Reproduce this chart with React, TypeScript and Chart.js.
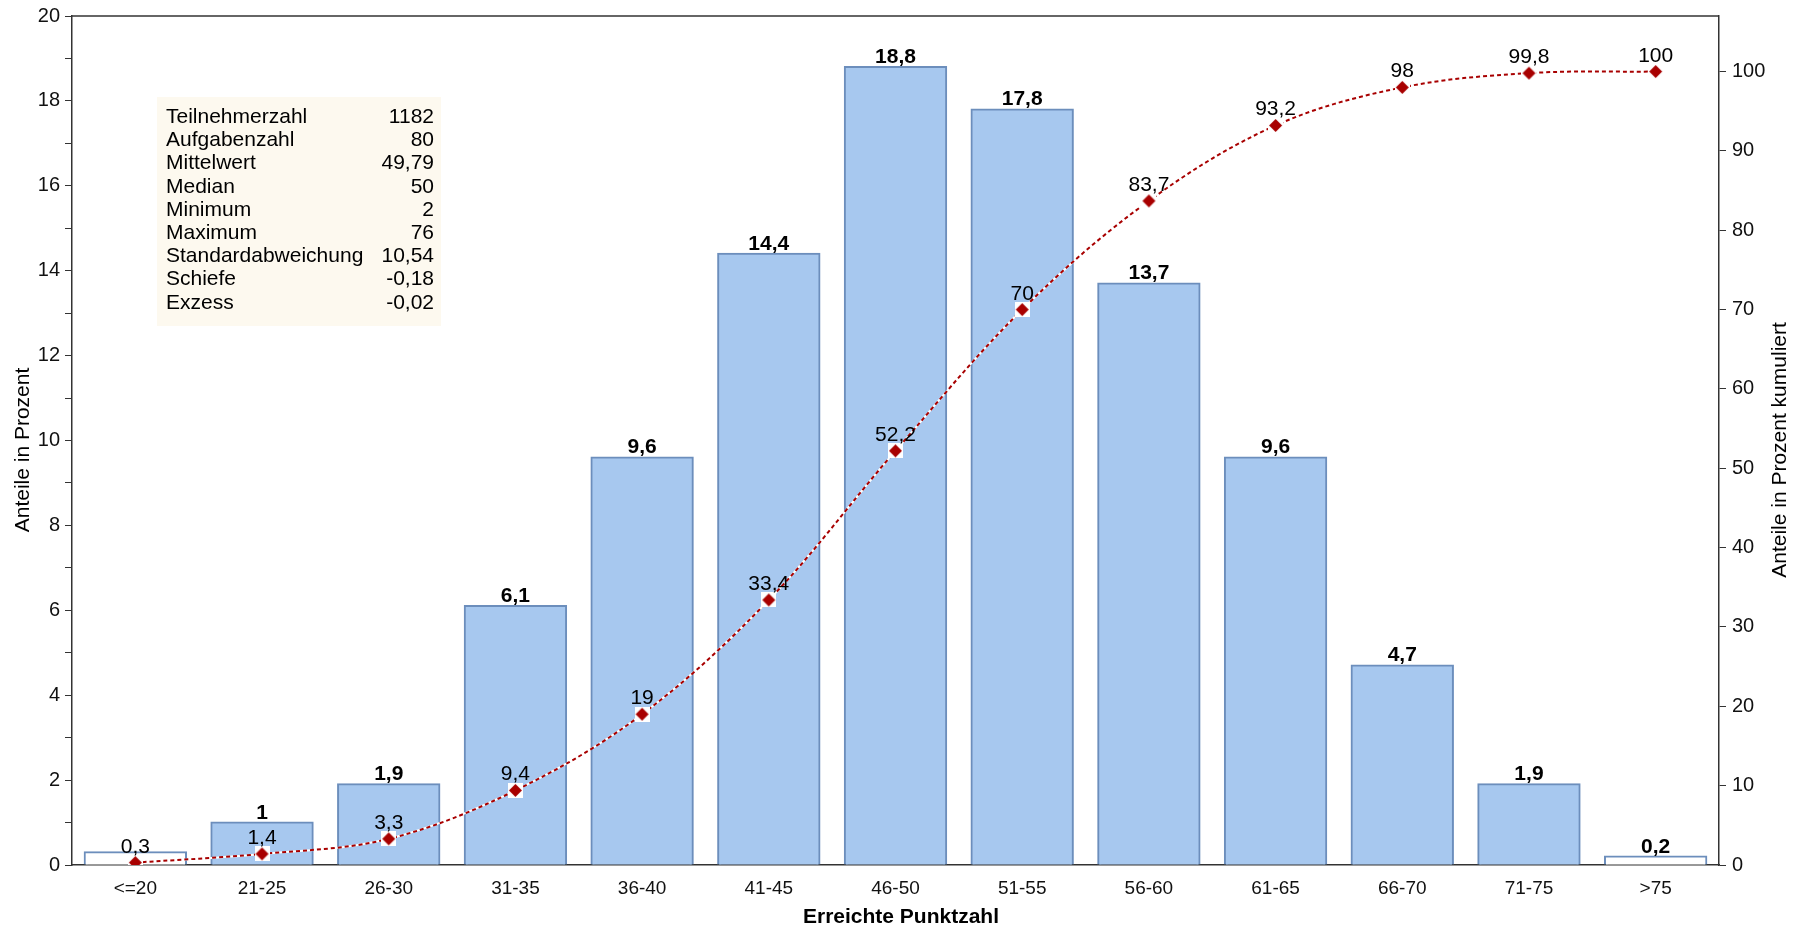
import React, { useEffect, useRef } from "react";
import { Chart, registerables } from "chart.js";

Chart.register(...registerables);

const categories = ["<=20", "21-25", "26-30", "31-35", "36-40", "41-45", "46-50", "51-55", "56-60", "61-65", "66-70", "71-75", ">75"];
const shares = [0.3, 1, 1.9, 6.1, 9.6, 14.4, 18.8, 17.8, 13.7, 9.6, 4.7, 1.9, 0.2];
const cumulative = [0.3, 1.4, 3.3, 9.4, 19, 33.4, 52.2, 70, 83.7, 93.2, 98, 99.8, 100];
const rightTicks = [0, 10, 20, 30, 40, 50, 60, 70, 80, 90, 100];
const statLabels = ["Teilnehmerzahl", "Aufgabenzahl", "Mittelwert", "Median", "Minimum", "Maximum", "Standardabweichung", "Schiefe", "Exzess"];
const statValues = ["1182", "80", "49,79", "50", "2", "76", "10,54", "-0,18", "-0,02"];

const FONT = '"Liberation Sans", Arial, Helvetica, sans-serif';
const fmt = (v: number) => String(v).replace(".", ",");

const BAR_FILL = "#A7C8EF";
const BAR_BORDER = "#6C8EBC";
const RED = "#A80000";

export default function App() {
  const ref = useRef<HTMLCanvasElement | null>(null);

  useEffect(() => {
    document.body.style.margin = "0";
    const canvas = ref.current!;

    const S = 15;
    const mk = document.createElement("canvas");
    mk.width = S;
    mk.height = S;
    const mc = mk.getContext("2d")!;
    mc.fillStyle = "#ffffff";
    mc.fillRect(0, 0, S, S);
    mc.fillStyle = RED;
    mc.beginPath();
    mc.moveTo(S / 2, 1);
    mc.lineTo(S - 1, S / 2);
    mc.lineTo(S / 2, S - 1);
    mc.lineTo(1, S / 2);
    mc.closePath();
    mc.fill();

    const overlay = {
      id: "overlay",
      beforeDatasetsDraw(chart: any) {
        const ctx = chart.ctx;
        ctx.save();
        ctx.fillStyle = "#FDF9EF";
        ctx.fillRect(157, 97, 284, 229);
        ctx.fillStyle = "#000";
        ctx.font = `21px ${FONT}`;
        ctx.textBaseline = "alphabetic";
        statLabels.forEach((l, i) => {
          const y = 123 + i * 23.2;
          ctx.textAlign = "left";
          ctx.fillText(l, 166, y);
          ctx.textAlign = "right";
          ctx.fillText(statValues[i], 434, y);
        });
        ctx.restore();
      },
      afterDatasetsDraw(chart: any) {
        const ctx = chart.ctx;
        const area = chart.chartArea;
        ctx.save();
        ctx.strokeStyle = "#333";
        ctx.lineWidth = 1.5;
        ctx.beginPath();
        ctx.moveTo(area.left, area.top);
        ctx.lineTo(area.right, area.top);
        ctx.stroke();

        ctx.fillStyle = "#000";
        ctx.textAlign = "center";
        ctx.textBaseline = "alphabetic";
        const barMeta = chart.getDatasetMeta(0);
        ctx.font = `bold 21px ${FONT}`;
        barMeta.data.forEach((el: any, i: number) => {
          if (shares[i] === cumulative[i]) return; // coincides with cumulative label
          ctx.fillText(fmt(shares[i]), el.x, el.y - 4);
        });
        const lineMeta = chart.getDatasetMeta(2);
        ctx.font = `21px ${FONT}`;
        lineMeta.data.forEach((el: any, i: number) => {
          ctx.fillText(fmt(cumulative[i]), el.x, el.y - 10);
        });

        ctx.font = `21px ${FONT}`;
        ctx.textBaseline = "middle";
        ctx.save();
        ctx.translate(23.5, 450);
        ctx.rotate(-Math.PI / 2);
        ctx.fillText("Anteile in Prozent", 0, 0);
        ctx.restore();
        ctx.save();
        ctx.translate(1780, 450);
        ctx.rotate(-Math.PI / 2);
        ctx.fillText("Anteile in Prozent kumuliert", 0, 0);
        ctx.restore();
        ctx.font = `bold 21px ${FONT}`;
        ctx.fillText("Erreichte Punktzahl", 901, 917);
        ctx.restore();
      },
    };

    const chart = new Chart(canvas, {
      type: "bar",
      data: {
        labels: categories,
        datasets: [
          {
            type: "bar",
            data: shares,
            yAxisID: "y",
            order: 3,
            backgroundColor: (c: any) => (c.dataIndex === 0 || c.dataIndex === shares.length - 1 ? "#ffffff" : BAR_FILL),
            borderColor: BAR_BORDER,
            borderWidth: 2,
            inflateAmount: 1,
            barPercentage: 0.8,
            categoryPercentage: 1.0,
          },
          {
            type: "line",
            data: cumulative,
            yAxisID: "y2",
            order: 2,
            borderColor: "#ffffff",
            borderWidth: 2,
            tension: 0.35,
            pointRadius: 0,
            fill: false,
          },
          {
            type: "line",
            data: cumulative,
            yAxisID: "y2",
            order: 1,
            borderColor: RED,
            borderWidth: 2,
            borderDash: [4, 3],
            tension: 0.35,
            pointStyle: mk as any,
            pointRadius: 7,
            fill: false,
          },
        ] as any,
      },
      options: {
        responsive: false,
        animation: false,
        layout: { padding: { top: 13, left: 0, right: 0, bottom: 0 } },
        plugins: { legend: { display: false }, tooltip: { enabled: false }, title: { display: false } },
        scales: {
          x: {
            grid: { display: false },
            border: { display: true, color: "#333", width: 1.5 },
            ticks: { font: { size: 19, family: FONT }, color: "#111", padding: 4, maxRotation: 0, autoSkip: false },
            afterFit: (s: any) => {
              s.height = 64;
            },
          },
          y: {
            position: "left",
            min: 0,
            max: 20,
            ticks: {
              stepSize: 1,
              callback: (v: any) => (Number(v) % 2 === 0 ? String(v) : ""),
              font: { size: 20, family: FONT, lineHeight: 1 },
              color: "#111",
              padding: 5,
            },
            grid: { drawOnChartArea: false, drawTicks: true, tickLength: 7, color: "#333", lineWidth: 1 },
            border: { display: true, color: "#333", width: 1.5 },
            afterFit: (s: any) => {
              s.width = 72;
            },
          },
          y2: {
            position: "right",
            min: 0,
            max: 107,
            afterBuildTicks: (s: any) => {
              s.ticks = rightTicks.map((v) => ({ value: v }));
            },
            ticks: { font: { size: 20, family: FONT, lineHeight: 1 }, color: "#111", padding: 6 },
            grid: { drawOnChartArea: false, drawTicks: true, tickLength: 7, color: "#333", lineWidth: 1 },
            border: { display: true, color: "#333", width: 1.5 },
            afterFit: (s: any) => {
              s.width = 83;
            },
          },
        },
      } as any,
      plugins: [overlay],
    });

    return () => chart.destroy();
  }, []);

  return (
    <div style={{ width: 1802, height: 929, background: "#fff" }}>
      <canvas ref={ref} width={1802} height={929} style={{ display: "block", width: 1802, height: 929 }} />
    </div>
  );
}
